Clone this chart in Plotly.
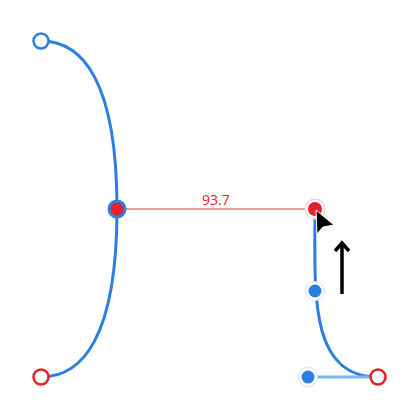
import plotly.graph_objects as go

# Canvas coordinates (pixels, y grows downward)
W, H = 419, 418
PAGE_PAD = 8  # default body margin of the html page

BLUE = '#2b7fe3'
RED = '#e8202a'
PALE_RED = '#ec7676'
PALE_BLUE = '#7fb2f0'

# Left path: two cubic segments meeting at the shared node
left_top = [(41, 41), (82, 41), (117, 80), (117, 209)]
left_bottom = [(117, 209), (117, 338), (82, 377), (41, 377)]

# Right path: anchor at bottom-right, handles, dragged end node
right_curve = [(378, 377), (308, 377), (315, 291), (315, 209)]
handle_x = [308, 378]
handle_y = [377, 377]

# Measurement between the two red nodes
measure_x = [117, 315]
measure_y = [209, 209]
measure_label = '93.7'

# Node markers
open_blue_x, open_blue_y = [41], [41]
open_red_x, open_red_y = [41, 378], [377, 377]
handle_dot_x, handle_dot_y = [315, 308], [291, 377]
joint_x, joint_y = [117], [209]
drag_x, drag_y = [315], [209]

# Cursor and drag arrow
cursor_x = [316, 317, 323, 334, 316]
cursor_y = [210, 234, 227, 225, 210]
arrow_shaft_x = [342, 342]
arrow_shaft_y = [294, 243]
arrow_head_x = [335, 342, 349]
arrow_head_y = [251, 243, 251]


def bezier_path(pts):
    (x0, y0), (x1, y1), (x2, y2), (x3, y3) = pts
    return f'M {x0},{y0} C {x1},{y1} {x2},{y2} {x3},{y3}'


fig = go.Figure()

# handle line (under curve)
fig.add_trace(go.Scatter(x=handle_x, y=handle_y, mode='lines',
                         line=dict(color=PALE_BLUE, width=3), hoverinfo='skip'))
# measurement line
fig.add_trace(go.Scatter(x=measure_x, y=measure_y, mode='lines',
                         line=dict(color=PALE_RED, width=1.5), hoverinfo='skip'))

for seg in (left_top, left_bottom, right_curve):
    fig.add_shape(type='path', path=bezier_path(seg), xref='x', yref='y',
                  line=dict(color=BLUE, width=3), layer='below')

fig.add_annotation(x=sum(measure_x) / 2, y=measure_y[0], text=measure_label,
                   showarrow=False, yshift=10,
                   font=dict(family='Open Sans', size=14, color=RED))

# open end nodes
fig.add_trace(go.Scatter(x=open_blue_x, y=open_blue_y, mode='markers',
                         marker=dict(size=15, color='white', line=dict(color=BLUE, width=2.5))))
fig.add_trace(go.Scatter(x=open_red_x, y=open_red_y, mode='markers',
                         marker=dict(size=15, color='white', line=dict(color=RED, width=2.5))))

# handle dots with halo
fig.add_trace(go.Scatter(x=handle_dot_x, y=handle_dot_y, mode='markers',
                         marker=dict(size=19, color='white', line=dict(color='#cfe2fa', width=1))))
fig.add_trace(go.Scatter(x=handle_dot_x, y=handle_dot_y, mode='markers',
                         marker=dict(size=13, color=BLUE, line=dict(width=0))))

# shared joint node
fig.add_trace(go.Scatter(x=joint_x, y=joint_y, mode='markers',
                         marker=dict(size=16, color=RED, line=dict(color=BLUE, width=3))))

# dragged node with halo
fig.add_trace(go.Scatter(x=drag_x, y=drag_y, mode='markers',
                         marker=dict(size=20, color='white', line=dict(color='#f6c3c3', width=1))))
fig.add_trace(go.Scatter(x=drag_x, y=drag_y, mode='markers',
                         marker=dict(size=14, color=RED, line=dict(width=0))))

# cursor
fig.add_trace(go.Scatter(x=cursor_x, y=cursor_y, mode='lines', fill='toself',
                         fillcolor='black', line=dict(color='white', width=1)))

# drag direction arrow
fig.add_trace(go.Scatter(x=arrow_shaft_x, y=arrow_shaft_y, mode='lines',
                         line=dict(color='black', width=3.5)))
fig.add_trace(go.Scatter(x=arrow_head_x, y=arrow_head_y, mode='lines',
                         line=dict(color='black', width=3.5)))

# the page puts the plot 8px in from the corner, so shift the ranges to match
fig.update_layout(
    width=W - PAGE_PAD, height=H - PAGE_PAD,
    margin=dict(l=0, r=0, t=0, b=0),
    plot_bgcolor='white', paper_bgcolor='white',
    showlegend=False,
    xaxis=dict(range=[PAGE_PAD, W], visible=False, fixedrange=True),
    yaxis=dict(range=[H, PAGE_PAD], visible=False, fixedrange=True),
)

fig.write_html('out.html', config={'displayModeBar': False})
